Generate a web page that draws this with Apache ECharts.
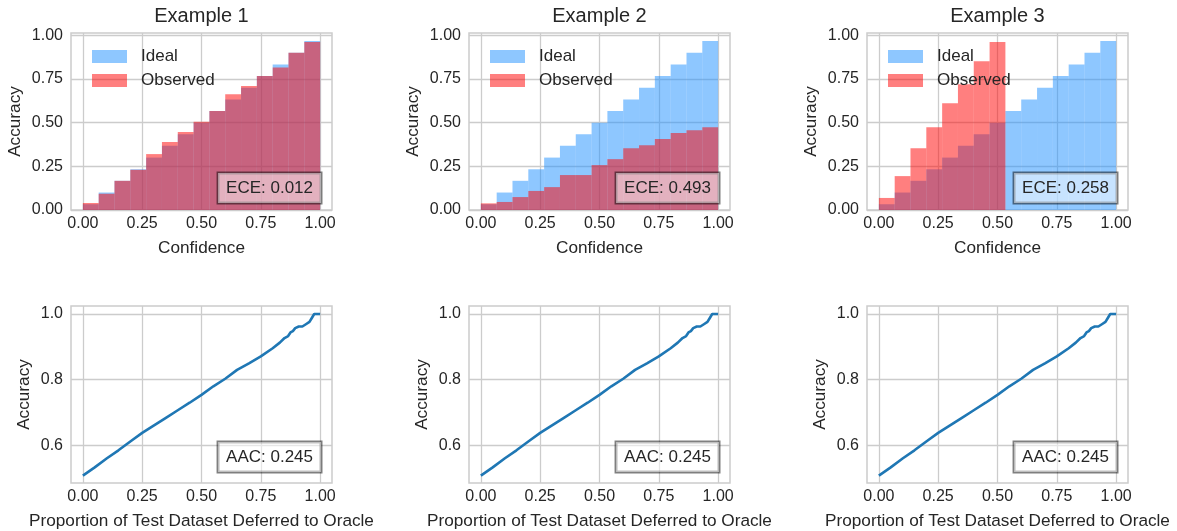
<!DOCTYPE html>
<html><head><meta charset="utf-8">
<script src="https://cdn.jsdelivr.net/npm/echarts@6/dist/echarts.min.js"></script>
<style>html,body{margin:0;padding:0;background:#fff}#c{width:1177px;height:531px}</style>
</head><body><div id="c"></div>
<script>
// ---------- data ----------
const binEdges = [0, 0.0667, 0.1333, 0.2, 0.2667, 0.3333, 0.4, 0.4667, 0.5333, 0.6, 0.6667, 0.7333, 0.8, 0.8667, 0.9333, 1.0];
const ideal = [0.033, 0.1, 0.167, 0.233, 0.3, 0.367, 0.433, 0.5, 0.567, 0.633, 0.7, 0.767, 0.833, 0.9, 0.967];
const observed1 = [0.040, 0.093, 0.167, 0.230, 0.320, 0.389, 0.446, 0.505, 0.567, 0.663, 0.709, 0.767, 0.815, 0.900, 0.962];
const observed2 = [0.038, 0.046, 0.074, 0.109, 0.131, 0.200, 0.200, 0.257, 0.291, 0.354, 0.371, 0.406, 0.440, 0.457, 0.474];
const observed3 = [0.069, 0.194, 0.354, 0.474, 0.611, 0.720, 0.851, 0.962, 0, 0, 0, 0, 0, 0, 0];
const titles = ['Example 1', 'Example 2', 'Example 3'];
const eceLabels = ['ECE: 0.012', 'ECE: 0.493', 'ECE: 0.258'];
const aacLabels = ['AAC: 0.245', 'AAC: 0.245', 'AAC: 0.245'];
const deferX = [0, 0.05, 0.1, 0.15, 0.2, 0.25, 0.3, 0.35, 0.4, 0.45, 0.5, 0.55, 0.6, 0.65, 0.7, 0.75, 0.8, 0.83, 0.85, 0.865, 0.875, 0.885, 0.895, 0.91, 0.925, 0.93, 0.94, 0.955, 0.965, 0.975, 1.0];
const deferAcc = [0.508, 0.533, 0.560, 0.585, 0.612, 0.638, 0.661, 0.684, 0.707, 0.730, 0.754, 0.780, 0.803, 0.830, 0.850, 0.871, 0.896, 0.913, 0.927, 0.933, 0.944, 0.948, 0.957, 0.962, 0.962, 0.957, 0.969, 0.976, 0.988, 1.0, 1.0];
const confTicks = [0, 0.25, 0.5, 0.75, 1.0];
const accTicksTop = [0, 0.25, 0.5, 0.75, 1.0];
const accTicksBottom = [0.6, 0.8, 1.0];
const observedAll = [observed1, observed2, observed3];

// ---------- layout / style ----------
const FONT = '"Liberation Sans", Arial, sans-serif';
const TXT = '#262626';
const GRIDC = '#cccccc';
const gridLefts = [71, 469, 867];
const GW = 261, GH = 177, TOP1 = 33, TOP2 = 306;
const IDEAL_C = 'rgba(30,144,255,0.5)';
const OBS_C = 'rgba(255,0,0,0.5)';

function barItem(color) {
  return function (params, api) {
    const a = api.coord([api.value(0), api.value(2)]);
    const b = api.coord([api.value(1), 0]);
    return { type: 'rect', shape: { x: a[0], y: a[1], width: b[0] - a[0], height: b[1] - a[1] }, style: { fill: color } };
  };
}

const grid = [], xAxis = [], yAxis = [], series = [], legend = [], graphic = [];
function xAx(gi, name) {
  return {
    type: 'value', gridIndex: gi, min: -0.05, max: 1.05,
    name: name, nameLocation: 'middle', nameGap: 29.5,
    nameTextStyle: { fontFamily: FONT, fontSize: 17.2, color: TXT },
    axisLine: { show: false },
    axisTick: { show: false, customValues: confTicks },
    axisLabel: { customValues: confTicks, formatter: v => v.toFixed(2), fontFamily: FONT, fontSize: 16, color: TXT, margin: 6 },
    splitLine: { show: true, lineStyle: { color: GRIDC, width: 1.3 } }
  };
}
function yAx(gi, min, max, ticks, dec, gap) {
  return {
    type: 'value', gridIndex: gi, min: min, max: max,
    name: 'Accuracy', nameLocation: 'middle', nameGap: gap,
    nameTextStyle: { fontFamily: FONT, fontSize: 17.2, color: TXT },
    axisLine: { show: false },
    axisTick: { show: false, customValues: ticks },
    axisLabel: { customValues: ticks, formatter: v => v.toFixed(dec), fontFamily: FONT, fontSize: 16, color: TXT, margin: 8 },
    splitLine: { show: true, lineStyle: { color: GRIDC, width: 1.3 } }
  };
}

for (let p = 0; p < 3; p++) {
  const L = gridLefts[p];
  const gt = 2 * p;      // top grid / axis index
  const gb = 2 * p + 1;  // bottom grid / axis index

  // top row: reliability histogram
  grid.push({ left: L, top: TOP1, width: GW, height: GH, show: true, borderColor: GRIDC, borderWidth: 1.5, backgroundColor: 'transparent', outerBoundsMode: 'none' });
  xAxis.push(xAx(gt, 'Confidence'));
  yAxis.push(yAx(gt, 0, 1.013, accTicksTop, 2, 47));
  series.push({
    type: 'custom', name: 'Ideal', xAxisIndex: gt, yAxisIndex: gt, silent: true, clip: true,
    itemStyle: { color: IDEAL_C }, renderItem: barItem(IDEAL_C), encode: { x: [0, 1], y: 2 },
    data: ideal.map((v, i) => [binEdges[i], binEdges[i + 1], v])
  });
  series.push({
    type: 'custom', name: 'Observed', xAxisIndex: gt, yAxisIndex: gt, silent: true, clip: true,
    itemStyle: { color: OBS_C }, renderItem: barItem(OBS_C), encode: { x: [0, 1], y: 2 },
    data: observedAll[p].map((v, i) => [binEdges[i], binEdges[i + 1], v])
  });
  legend.push({
    data: ['Ideal', 'Observed'], orient: 'vertical', left: L + 16, top: 43,
    itemWidth: 35, itemHeight: 13, itemGap: 7, selectedMode: false, icon: 'rect',
    textStyle: { fontFamily: FONT, fontSize: 17, color: TXT, padding: [0, 0, 0, 9] }
  });
  graphic.push({
    type: 'text', x: L + GW / 2, y: 16, silent: true,
    style: { text: titles[p], fontFamily: FONT, fontSize: 20, fill: TXT, align: 'center', verticalAlign: 'middle' }
  });
  graphic.push({
    type: 'text', x: L + 250, y: TOP1 + 170, silent: true, z: 100,
    style: { text: eceLabels[p], fontFamily: FONT, fontSize: 17, fill: TXT, align: 'right', verticalAlign: 'bottom',
      backgroundColor: 'rgba(255,255,255,0.5)', borderColor: 'rgba(0,0,0,0.5)', borderWidth: 1.5, padding: [6, 8, 6, 8], lineHeight: 18 }
  });

  // bottom row: accuracy vs deferral
  grid.push({ left: L, top: TOP2, width: GW, height: GH, show: true, borderColor: GRIDC, borderWidth: 1.5, backgroundColor: 'transparent', outerBoundsMode: 'none' });
  xAxis.push(xAx(gb, 'Proportion of Test Dataset Deferred to Oracle'));
  yAxis.push(yAx(gb, 0.4855, 1.0245, accTicksBottom, 1, 38));
  series.push({
    type: 'line', name: 'AAC', xAxisIndex: gb, yAxisIndex: gb, silent: true, showSymbol: false,
    lineStyle: { color: '#1f77b4', width: 2.6 }, itemStyle: { color: '#1f77b4' },
    data: deferX.map((x, i) => [x, deferAcc[i]])
  });
  graphic.push({
    type: 'text', x: L + 250, y: TOP2 + 166, silent: true, z: 100,
    style: { text: aacLabels[p], fontFamily: FONT, fontSize: 17, fill: TXT, align: 'right', verticalAlign: 'bottom',
      backgroundColor: 'rgba(255,255,255,0.5)', borderColor: 'rgba(0,0,0,0.5)', borderWidth: 1.5, padding: [6, 8, 6, 8], lineHeight: 18 }
  });
}

const chart = echarts.init(document.getElementById('c'), null, { renderer: 'canvas' });
chart.setOption({
  animation: false, backgroundColor: '#ffffff',
  grid, xAxis, yAxis, series, legend, graphic
});
</script></body></html>
